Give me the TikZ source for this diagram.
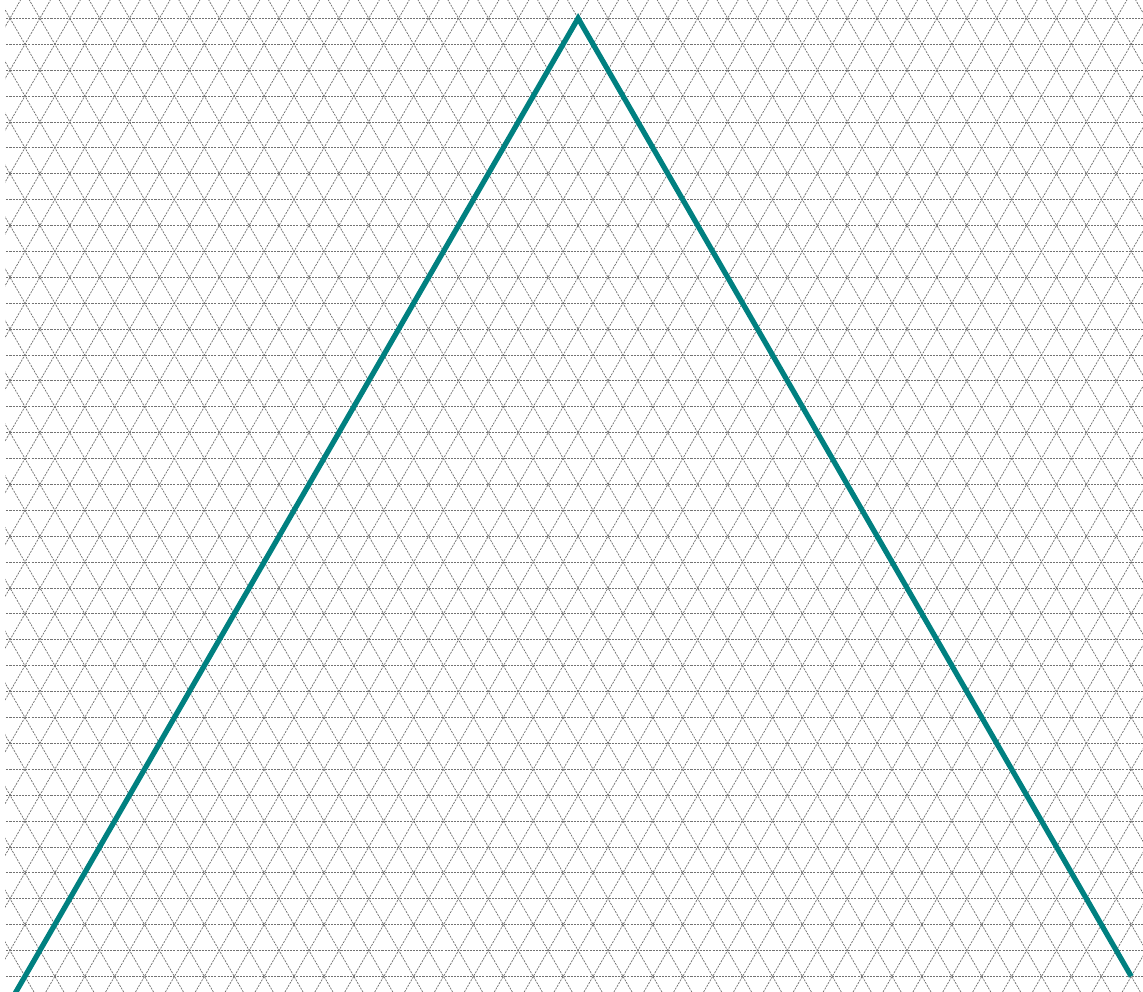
\documentclass[tikz,border=0pt]{standalone}
\usepackage{xcolor}
\definecolor{peakteal}{RGB}{0,128,128}
\tikzset{gridline/.style={black!55,line width=0.7pt,dash pattern=on 2pt off 1pt},
  peakline/.style={peakteal,line width=5pt,line join=miter}}
\begin{document}
\begin{tikzpicture}
\useasboundingbox (0,0) rectangle (38.227,-33.144);
\begin{scope}
\clip (0,0) rectangle (38.227,-33.144);
\begin{scope}
\clip (0.17,0) rectangle (38.227,-33.144);
\foreach \k in {0,...,38}
  \draw[gridline] (0,{-0.612-0.866*\k}) -- (38.3,{-0.612-0.866*\k});
\foreach \n in {-21,...,58} {
  \draw[gridline] ({0.334+\n},-0.612) ++(-1,1.732) -- ++(21,-36.372);
  \draw[gridline] ({0.334+\n},-0.612) ++(1,1.732) -- ++(-21,-36.372);
}
\end{scope}
\coordinate (apex) at (19.334,-0.612);
\coordinate (left) at (0.334,-33.52);
\coordinate (right) at (37.834,-32.654);
\draw[peakline] (left) -- (apex) -- (right);
\end{scope}
\end{tikzpicture}
\end{document}
